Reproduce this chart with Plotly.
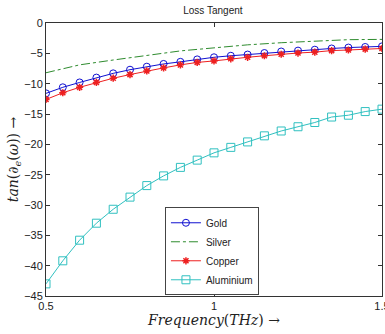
import plotly.graph_objects as go

freq = [0.5, 0.55, 0.6, 0.65, 0.7, 0.75, 0.8, 0.85, 0.9, 0.95, 1.0,
        1.05, 1.1, 1.15, 1.2, 1.25, 1.3, 1.35, 1.4, 1.45, 1.5]
gold = [-11.6, -10.6, -9.8, -9.0, -8.3, -7.7, -7.2, -6.75, -6.4, -6.0, -5.65,
        -5.4, -5.2, -4.95, -4.7, -4.55, -4.4, -4.2, -4.05, -3.95, -3.85]
copper = [-12.6, -11.5, -10.6, -9.8, -9.1, -8.5, -7.9, -7.4, -6.9, -6.5, -6.25,
          -5.9, -5.65, -5.4, -5.15, -4.95, -4.8, -4.55, -4.45, -4.3, -4.2]
aluminium = [-43.0, -39.2, -35.8, -33.0, -30.7, -28.7, -26.8, -25.2, -23.8, -22.6, -21.4,
             -20.5, -19.6, -18.6, -17.8, -17.1, -16.4, -15.5, -15.2, -14.6, -14.2]
silver_freq = [0.5, 0.6, 0.7, 0.8, 0.9, 1.0, 1.1, 1.2, 1.3, 1.4, 1.5]
silver = [-8.2, -6.9, -6.1, -5.3, -4.6, -4.1, -3.6, -3.25, -3.0, -2.75, -2.7]

fig = go.Figure()
fig.add_trace(go.Scatter(x=freq, y=gold, name="Gold", mode="lines+markers",
                         line=dict(color="#1010d0", width=1),
                         marker=dict(symbol="circle-open", size=7, color="#1010d0", line=dict(width=1))))
fig.add_trace(go.Scatter(x=silver_freq, y=silver, name="Silver", mode="lines",
                         line=dict(color="#2e8b2e", width=1, dash="dashdot")))
fig.add_trace(go.Scatter(x=freq, y=copper, name="Copper", mode="lines+markers",
                         line=dict(color="#ee2020", width=1),
                         marker=dict(symbol="asterisk-open", size=6, color="#ee2020", line=dict(width=1.5, color="#ee2020"))))
fig.add_trace(go.Scatter(x=freq, y=aluminium, name="Aluminium", mode="lines+markers",
                         line=dict(color="#30c0c0", width=1),
                         marker=dict(symbol="square-open", size=8, color="#30c0c0", line=dict(width=1))))

axis_common = dict(showline=True, linecolor="#333333", linewidth=1, mirror="ticks",
                   ticks="inside", ticklen=4, tickcolor="#333333", showgrid=False,
                   zeroline=False, ticklabeloverflow="allow", automargin=False,
                   tickfont=dict(family="Arial", size=11, color="#222222"))

fig.update_layout(
    width=385, height=334,
    margin=dict(l=46, r=3, t=23, b=38),
    paper_bgcolor="white", plot_bgcolor="white",
    title=dict(text="Loss Tangent", x=0.553, xanchor="center", y=0.97, yanchor="middle",
               font=dict(family="Arial", size=10, color="#222222")),
    xaxis=dict(range=[0.5, 1.5], tickvals=[0.5, 1, 1.5], ticktext=["0.5", "1", "1.5"],
               title=dict(text="<i>Frequency</i>(<i>THz</i>) →", standoff=1,
                          font=dict(family="DejaVu Serif", size=14, color="#222222")),
               **axis_common),
    yaxis=dict(range=[-45, 0], tickvals=[0, -5, -10, -15, -20, -25, -30, -35, -40, -45],
               title=dict(text="<i>tan</i>(∂<sub><i>e</i></sub>(<i>ω</i>)) →", standoff=2,
                          font=dict(family="DejaVu Serif", size=14, color="#222222")),
               **axis_common),
    legend=dict(x=0.354, y=0.325, xanchor="left", yanchor="top",
                bgcolor="white", bordercolor="#444444", borderwidth=1,
                font=dict(family="Arial", size=10, color="#222222"),
                tracegroupgap=0, itemwidth=30),
    showlegend=True,
)

fig.write_html("out.html")
